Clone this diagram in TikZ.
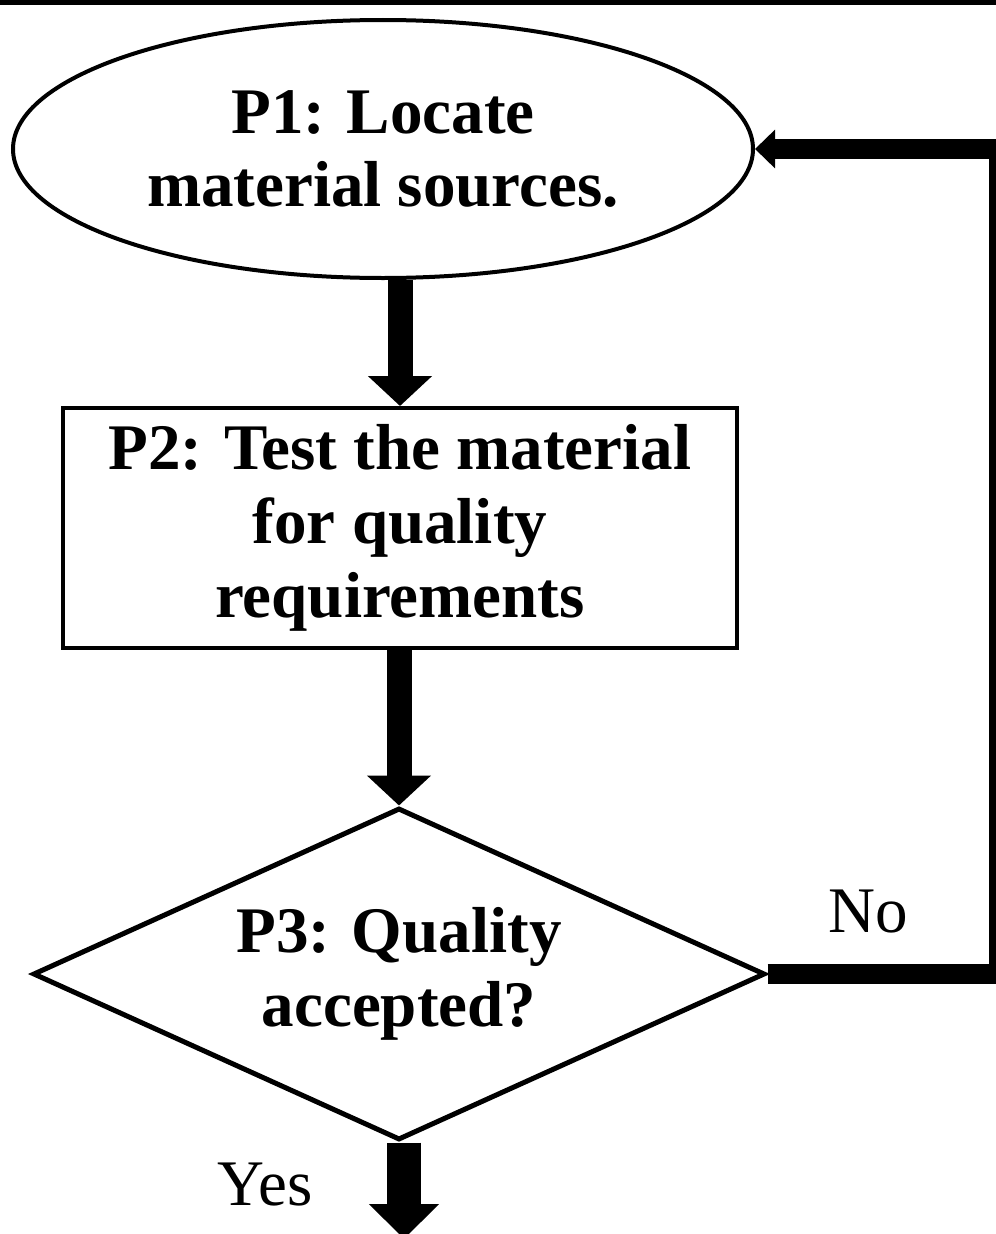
\documentclass[tikz,border=0pt]{standalone}
\usepackage{fontspec}
\setmainfont{Liberation Serif}
\usetikzlibrary{arrows.meta,shapes.geometric,positioning}

\tikzset{
 proc/.style={draw,line width=0.08cm,align=center,inner sep=0pt,font=\fontsize{37}{42}\selectfont\bfseries},
 flow/.style={line width=0.5cm,-{Triangle[length=0.6cm,width=1.25cm]}},
 back/.style={line width=0.4cm,-{Triangle[length=0.4cm,width=0.75cm]}},
 answer/.style={font=\fontsize{37}{42}\selectfont}
}

\begin{document}
\begin{tikzpicture}
 \useasboundingbox (0,0) rectangle (19.92,-24.68);
 \draw[line width=0.2cm] (0,0) -- (19.92,0);
 \node[proc,ellipse,minimum width=14.8cm,minimum height=5.16cm] (p1) at (7.66,-2.98) {P1: Locate\\material sources.};
 \node[proc,rectangle,minimum width=13.48cm,minimum height=4.8cm] (p2) at (8.0,-10.56) {P2: Test the material\\for quality\\requirements};
 \node[proc,diamond,shape aspect=2.2,line width=0.1cm,minimum width=14.64cm,minimum height=6.64cm] (p3) at (7.98,-19.48) {P3: Quality\\accepted?};
 \coordinate (exit) at (8.08,-24.78);
 \coordinate (turn) at (19.98,-12);
 \draw[flow] (p2.north |- p1.south) -- (p2.north);
 \draw[flow] (p3.north |- p2.south) -- (p3.north);
 \draw[flow,line width=0.68cm,-{Triangle[length=0.7cm,width=1.36cm]}] (p3.south -| exit) -- (exit);
 \draw[back] (p3.east) -| (turn) |- (p1.east);
 \node[answer] (no) at (17.36,-18.24) {No};
 \node[answer] (yes) at (5.3,-23.7) {Yes};
\end{tikzpicture}
\end{document}
